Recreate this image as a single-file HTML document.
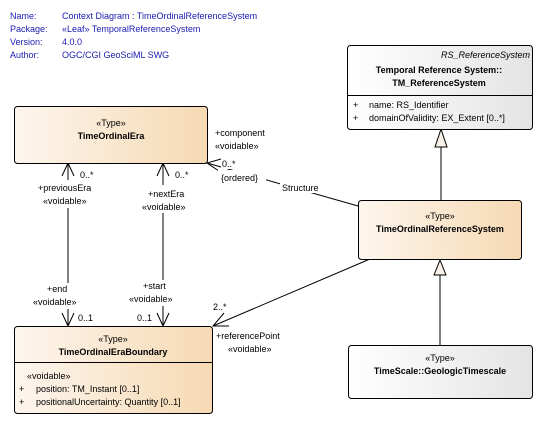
<!DOCTYPE html>
<html><head><meta charset="utf-8"><style>
body{margin:0;background:#fff;}
svg text{font-family:"Liberation Sans",sans-serif;font-size:9px;}
</style></head><body>
<svg width="547" height="428" viewBox="0 0 547 428" xmlns="http://www.w3.org/2000/svg">
<defs>
<linearGradient id="o" x1="0" x2="1" y1="0" y2="0"><stop offset="0" stop-color="#fdf6ee"/><stop offset="1" stop-color="#f6d9b3"/></linearGradient>
<linearGradient id="g" x1="0" x2="1" y1="0" y2="0"><stop offset="0" stop-color="#ffffff"/><stop offset="1" stop-color="#e4e4e4"/></linearGradient>
</defs>
<g fill="#1a1ab0">
<text x="10" y="19">Name:</text><text x="62" y="19">Context Diagram : TimeOrdinalReferenceSystem</text>
<text x="10" y="32">Package:</text><text x="62" y="32">«Leaf» TemporalReferenceSystem</text>
<text x="10" y="45">Version:</text><text x="62" y="45">4.0.0</text>
<text x="10" y="58">Author:</text><text x="62" y="58">OGC/CGI GeoSciML SWG</text>
</g>
<g stroke="#000" fill="none" stroke-width="1">
<line x1="68" y1="163" x2="68" y2="326"/>
<line x1="163" y1="163" x2="163" y2="326"/>
<polyline points="62,176 68,163 74,176"/>
<polyline points="157,176 163,163 169,176"/>
<polyline points="62,313 68,326 74,313"/>
<polyline points="157,313 163,326 169,313"/>
<line x1="207" y1="163" x2="358" y2="206"/>
<polyline points="221,159 207,163 219,171"/>
<line x1="370" y1="259" x2="213" y2="326"/>
<polyline points="224,313 213,326 229,326"/>
<line x1="441" y1="147" x2="441" y2="200"/>
<line x1="440" y1="275" x2="440" y2="345"/>
</g>
<polygon points="441,129 435,147 447,147" fill="#f8f0e6" stroke="#000"/>
<polygon points="440,260 434,275 446,275" fill="#f8f0e6" stroke="#000"/>
<g fill="#fff">
<rect x="30" y="180" width="70" height="28"/>
<rect x="135" y="185" width="60" height="28"/>
<rect x="30" y="283" width="60" height="26"/>
<rect x="125" y="280" width="65" height="26"/>
<rect x="221" y="159" width="16" height="10"/>
<rect x="218" y="170" width="48" height="13"/>
<rect x="280" y="180" width="45" height="13"/>
</g>
<g fill="#000">
<text x="80" y="178">0..*</text>
<text x="175" y="178">0..*</text>
<text x="38" y="191">+previousEra</text>
<text x="43" y="204">«voidable»</text>
<text x="148" y="197">+nextEra</text>
<text x="142" y="210">«voidable»</text>
<text x="47" y="292">+end</text>
<text x="33" y="305">«voidable»</text>
<text x="78" y="321">0..1</text>
<text x="143" y="289">+start</text>
<text x="129" y="302">«voidable»</text>
<text x="137" y="321">0..1</text>
<text x="215" y="136">+component</text>
<text x="215" y="149">«voidable»</text>
<text x="222" y="167">0..*</text>
<text x="221" y="181">{ordered}</text>
<text x="282" y="191">Structure</text>
<text x="213" y="310">2..*</text>
<text x="216" y="339">+referencePoint</text>
<text x="228" y="352">«voidable»</text>
</g>
<g stroke="#000">
<rect x="14.5" y="106.5" width="193" height="57" rx="3" fill="url(#o)"/>
<rect x="14.5" y="326.5" width="198" height="87" rx="3" fill="url(#o)"/>
<line x1="14.5" y1="362.5" x2="212.5" y2="362.5"/>
<rect x="347.5" y="45.5" width="185" height="84" rx="3" fill="url(#g)"/>
<line x1="347.5" y1="95.5" x2="532.5" y2="95.5"/>
<rect x="358.5" y="200.5" width="163" height="59" rx="3" fill="url(#o)"/>
<rect x="348.5" y="345.5" width="184" height="53" rx="3" fill="url(#g)"/>
</g>
<g fill="#000" text-anchor="middle">
<text x="111" y="126">«Type»</text>
<text x="111" y="139" font-weight="bold">TimeOrdinalEra</text>
<text x="113" y="342">«Type»</text>
<text x="113" y="355" font-weight="bold">TimeOrdinalEraBoundary</text>
<text x="440" y="219">«Type»</text>
<text x="440" y="232" font-weight="bold">TimeOrdinalReferenceSystem</text>
<text x="440" y="361">«Type»</text>
<text x="440" y="374" font-weight="bold">TimeScale::GeologicTimescale</text>
<text x="439" y="73" font-weight="bold">Temporal Reference System::</text>
<text x="439" y="86" font-weight="bold">TM_ReferenceSystem</text>
</g>
<g fill="#000">
<text x="530" y="58" text-anchor="end" font-style="italic">RS_ReferenceSystem</text>
<text x="353" y="108">+</text><text x="369" y="108">name: RS_Identifier</text>
<text x="353" y="121">+</text><text x="369" y="121">domainOfValidity: EX_Extent [0..*]</text>
<text x="27" y="379">«voidable»</text>
<text x="19" y="392">+</text><text x="36" y="392">position: TM_Instant [0..1]</text>
<text x="19" y="405">+</text><text x="36" y="405">positionalUncertainty: Quantity [0..1]</text>
</g>
</svg>
</body></html>
